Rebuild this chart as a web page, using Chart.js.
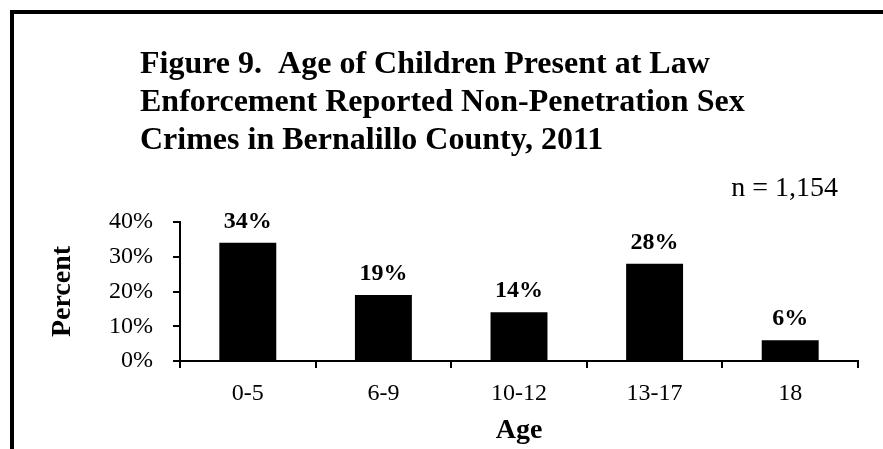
<!DOCTYPE html>
<html>
<head>
<meta charset="utf-8">
<title>Figure 9</title>
<script src="https://cdn.jsdelivr.net/npm/chart.js@4/dist/chart.umd.min.js"></script>
<style>
    html, body { margin: 0; padding: 0; background: #fff; }
    canvas { display: block; }
</style>
</head>
<body>
<canvas id="chartEdades" width="883" height="449"></canvas>
<script>
// Datos de la figura
const categorias = ['0-5', '6-9', '10-12', '13-17', '18'];
const porcentajes = [34, 19, 14, 28, 6];
const ticksY = [0, 10, 20, 30, 40];
const tituloLineas = [
    'Figure 9.  Age of Children Present at Law',
    'Enforcement Reported Non-Penetration Sex',
    'Crimes in Bernalillo County, 2011'
];
const textoN = 'n = 1,154';

const SERIF = "'Liberation Serif', 'Times New Roman', serif";
Chart.defaults.font.family = SERIF;
Chart.defaults.color = '#000';

// Marco, titulo y n dibujados sobre el canvas
const pluginDecoracion = {
    id: 'decoracion',
    beforeDraw(chart) {
        const ctx = chart.ctx;
        ctx.save();
        ctx.fillStyle = '#fff';
        ctx.fillRect(0, 0, chart.width, chart.height);
        ctx.restore();
    },
    afterDraw(chart) {
        const ctx = chart.ctx;
        ctx.save();
        // marco (solo se ve arriba y a la izquierda)
        ctx.strokeStyle = '#000';
        ctx.lineWidth = 4;
        ctx.strokeRect(12, 12, 1000, 1000);

        ctx.fillStyle = '#000';
        ctx.textBaseline = 'alphabetic';
        ctx.textAlign = 'left';
        ctx.font = 'bold 32px ' + SERIF;
        tituloLineas.forEach((linea, i) => {
            ctx.fillText(linea, 140, 73 + i * 38);
        });

        ctx.font = '28px ' + SERIF;
        ctx.textAlign = 'right';
        ctx.fillText(textoN, 838, 196);

        // etiquetas de valor sobre cada barra
        const meta = chart.getDatasetMeta(0);
        ctx.font = 'bold 24px ' + SERIF;
        ctx.textAlign = 'center';
        meta.data.forEach((barra, i) => {
            ctx.fillText(porcentajes[i] + '%', barra.x, barra.y - 15);
        });
        ctx.restore();
    }
};

new Chart(document.getElementById('chartEdades'), {
    type: 'bar',
    data: {
        labels: categorias,
        datasets: [{
            data: porcentajes,
            backgroundColor: '#000',
            borderWidth: 0,
            barPercentage: 0.42,
            categoryPercentage: 1
        }]
    },
    options: {
        responsive: false,
        animation: false,
        events: [],
        layout: { padding: { left: 14, right: 25, top: 222, bottom: 0 } },
        plugins: {
            legend: { display: false },
            tooltip: { enabled: false }
        },
        scales: {
            x: {
                afterFit: (scale) => { scale.height = 88; },
                grid: {
                    offset: true,
                    drawOnChartArea: false,
                    drawTicks: true,
                    tickLength: 7,
                    tickColor: '#000',
                    lineWidth: 2
                },
                border: { display: true, color: '#000', width: 2 },
                ticks: { font: { size: 24 }, padding: 11, color: '#000' },
                title: {
                    display: true,
                    text: 'Age',
                    font: { size: 28, weight: 'bold' },
                    padding: { top: 0, bottom: 1 },
                    color: '#000'
                }
            },
            y: {
                min: 0,
                max: 40,
                afterFit: (scale) => { scale.width = 166; },
                afterBuildTicks: (scale) => {
                    scale.ticks = ticksY.map(v => ({ value: v }));
                },
                grid: {
                    drawOnChartArea: false,
                    drawTicks: true,
                    tickLength: 7,
                    tickColor: '#000',
                    lineWidth: 2
                },
                border: { display: true, color: '#000', width: 2 },
                ticks: {
                    font: { size: 24 },
                    padding: 20,
                    color: '#000',
                    callback: (v) => v + '%'
                },
                title: {
                    display: true,
                    text: 'Percent',
                    font: { size: 28, weight: 'bold' },
                    padding: { top: 32, bottom: 0 },
                    color: '#000'
                }
            }
        }
    },
    plugins: [pluginDecoracion]
});
</script>
</body>
</html>
